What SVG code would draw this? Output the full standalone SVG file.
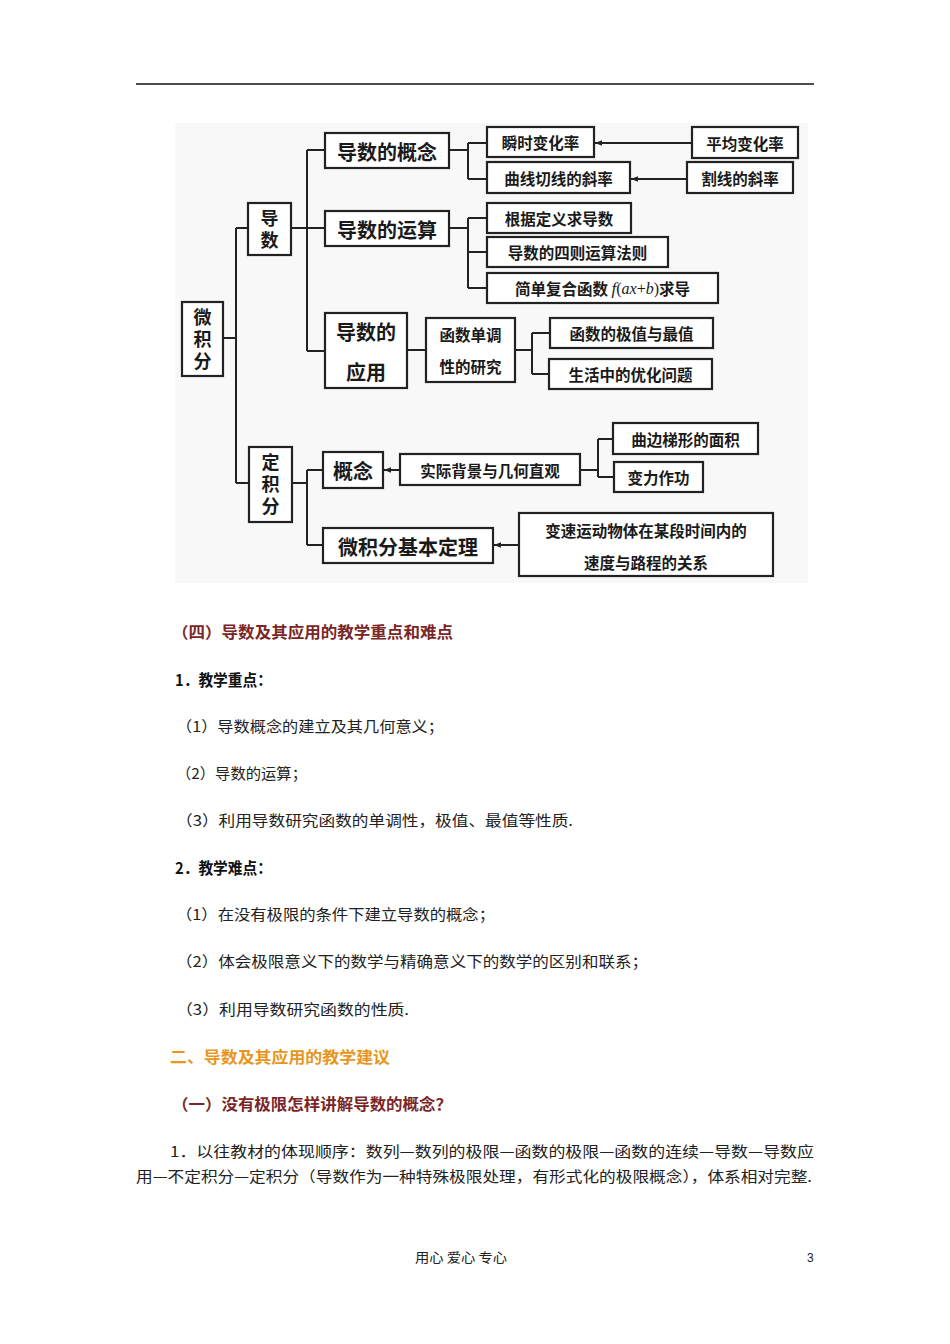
<svg xmlns="http://www.w3.org/2000/svg" width="950" height="1344" viewBox="0 0 950 1344">
<defs>
<marker id="ah" viewBox="0 0 10 10" refX="10" refY="5" markerWidth="7" markerHeight="7" orient="auto" markerUnits="userSpaceOnUse">
<path d="M0,1 L10,5 L0,9 z" fill="#222"/>
</marker>
<style>
.bx{fill:#fff;stroke:#222;stroke-width:2.2}
.t{font-family:"Noto Sans CJK SC","Noto Sans CJK JP",sans-serif;font-weight:bold;fill:#1a1a1a;text-anchor:middle;dominant-baseline:central}
.vt{font-family:"Noto Sans CJK SC","Noto Sans CJK JP",sans-serif;font-weight:bold;fill:#1a1a1a;text-anchor:middle;writing-mode:vertical-rl;font-size:18px;letter-spacing:4px}
.b{font-size:20px}
.s{font-size:15.5px}
.ln{stroke:#222;stroke-width:2;fill:none}
.body{font-family:"Noto Sans CJK SC",sans-serif;font-size:15px;fill:#222}
.hd{font-family:"Noto Sans CJK SC",sans-serif;font-size:15.5px;font-weight:bold}
.it{font-family:"Liberation Serif",serif;font-style:italic;font-weight:normal}
.rm{font-family:"Liberation Serif",serif;font-weight:normal}
</style>
</defs>
<rect width="950" height="1344" fill="#fff"/>
<line x1="136" y1="84" x2="814" y2="84" stroke="#111" stroke-width="1.5"/>
<rect x="175" y="123" width="633" height="460" fill="#f8f8f8"/>

<g id="connectors">
<path class="ln" d="M223,338 H236 M236,228 V483 M236,228 H248 M236,483 H249"/>
<path class="ln" d="M291,228 H325 M307,150 V351 M307,150 H325 M307,351 H325"/>
<path class="ln" d="M449,150 H468 M468,143 V179 M468,143 H487 M468,179 H487"/>
<path class="ln" d="M449,228 H468 M468,218 V288 M468,218 H487 M468,252 H487 M468,288 H487"/>
<path class="ln" d="M407,350 H426"/>
<path class="ln" d="M515,350 H532 M532,333 V374 M532,333 H550 M532,374 H549"/>
<path class="ln" d="M292,483 H307 M307,470 V545 M307,470 H323 M307,545 H323"/>
<path class="ln" d="M580,470 H598 M598,439 V477 M598,439 H613 M598,477 H614"/>
<line class="ln" x1="692" y1="143" x2="595" y2="143" marker-end="url(#ah)"/>
<line class="ln" x1="687" y1="179" x2="631" y2="179" marker-end="url(#ah)"/>
<line class="ln" x1="400" y1="470" x2="384" y2="470" marker-end="url(#ah)"/>
<line class="ln" x1="519" y1="545" x2="494" y2="545" marker-end="url(#ah)"/>
</g>

<g id="n-weijifen"><rect class="bx" x="182" y="302" width="41" height="74"/>
<text class="vt" x="202.5" y="341">微积分</text></g>
<g id="n-daoshu"><rect class="bx" x="248" y="203" width="43" height="52"/>
<text class="vt" x="269.5" y="231" font-size="19">导数</text></g>
<g id="n-dingjifen"><rect class="bx" x="249" y="447" width="43" height="75"/>
<text class="vt" x="270.5" y="486">定积分</text></g>

<g id="n-gainian"><rect class="bx" x="325" y="133" width="124" height="35"/><text class="t b" x="387" y="151">导数的概念</text></g>
<g id="n-yunsuan"><rect class="bx" x="325" y="211" width="124" height="35"/><text class="t b" x="387" y="229">导数的运算</text></g>
<g id="n-yingyong"><rect class="bx" x="325" y="313" width="82" height="75"/><text class="t b" x="366" y="331">导数的</text><text class="t b" x="366" y="371">应用</text></g>

<g id="n-shunshi"><rect class="bx" x="487" y="127" width="107" height="30"/><text class="t s" x="540.5" y="142">瞬时变化率</text></g>
<g id="n-pingjun"><rect class="bx" x="692" y="127" width="106" height="31"/><text class="t s" x="745" y="142.5">平均变化率</text></g>
<g id="n-qiexian"><rect class="bx" x="487" y="162" width="143" height="31"/><text class="t s" x="558.5" y="177.5">曲线切线的斜率</text></g>
<g id="n-gexian"><rect class="bx" x="687" y="162" width="106" height="31"/><text class="t s" x="740" y="177.5">割线的斜率</text></g>
<g id="n-dingyi"><rect class="bx" x="487" y="203" width="144" height="30"/><text class="t s" x="559" y="218">根据定义求导数</text></g>
<g id="n-size"><rect class="bx" x="487" y="237" width="181" height="30"/><text class="t s" x="577.5" y="252">导数的四则运算法则</text></g>
<g id="n-fuhe"><rect class="bx" x="487" y="273" width="231" height="30"/><text class="t s" x="602.5" y="288">简单复合函数 <tspan class="it" font-size="17">f</tspan><tspan class="rm" font-size="16">(</tspan><tspan class="it" font-size="16">ax</tspan><tspan class="rm" font-size="16">+</tspan><tspan class="it" font-size="16">b</tspan><tspan class="rm" font-size="16">)</tspan>求导</text></g>

<g id="n-dandiao"><rect class="bx" x="426" y="318" width="89" height="64"/><text class="t s" x="470.5" y="334">函数单调</text><text class="t s" x="470.5" y="366">性的研究</text></g>
<g id="n-jizhi"><rect class="bx" x="550" y="318" width="163" height="30"/><text class="t s" x="631.5" y="333">函数的极值与最值</text></g>
<g id="n-youhua"><rect class="bx" x="549" y="359" width="163" height="30"/><text class="t s" x="630.5" y="374">生活中的优化问题</text></g>

<g id="n-gn"><rect class="bx" x="323" y="452" width="60" height="36"/><text class="t b" x="353" y="470">概念</text></g>
<g id="n-shiji"><rect class="bx" x="400" y="454" width="180" height="31"/><text class="t s" x="490" y="469.5">实际背景与几何直观</text></g>
<g id="n-qubian"><rect class="bx" x="613" y="423" width="145" height="31"/><text class="t s" x="685.5" y="438.5">曲边梯形的面积</text></g>
<g id="n-bianli"><rect class="bx" x="614" y="462" width="89" height="30"/><text class="t s" x="658.5" y="477">变力作功</text></g>
<g id="n-jiben"><rect class="bx" x="323" y="528" width="170" height="35"/><text class="t b" x="408" y="546">微积分基本定理</text></g>
<g id="n-biansu"><rect class="bx" x="519" y="513" width="254" height="63"/><text class="t s" x="646" y="530">变速运动物体在某段时间内的</text><text class="t s" x="646" y="562">速度与路程的关系</text></g>

<g id="textbody">
<text class="hd" x="172" y="638" fill="#7a2626" textLength="281" lengthAdjust="spacingAndGlyphs">（四）导数及其应用的教学重点和难点</text>
<text class="hd" x="175" y="686" fill="#111" textLength="97" lengthAdjust="spacingAndGlyphs">1．教学重点：</text>
<text class="body" x="176" y="732" textLength="268" lengthAdjust="spacingAndGlyphs">（1）导数概念的建立及其几何意义；</text>
<text class="body" x="176" y="779" textLength="131" lengthAdjust="spacingAndGlyphs">（2）导数的运算；</text>
<text class="body" x="176" y="826" textLength="397" lengthAdjust="spacingAndGlyphs">（3）利用导数研究函数的单调性，极值、最值等性质.</text>
<text class="hd" x="175" y="874" fill="#111" textLength="97" lengthAdjust="spacingAndGlyphs">2．教学难点：</text>
<text class="body" x="176" y="920" textLength="319" lengthAdjust="spacingAndGlyphs">（1）在没有极限的条件下建立导数的概念；</text>
<text class="body" x="176" y="967" textLength="472" lengthAdjust="spacingAndGlyphs">（2）体会极限意义下的数学与精确意义下的数学的区别和联系；</text>
<text class="body" x="176" y="1015" textLength="233" lengthAdjust="spacingAndGlyphs">（3）利用导数研究函数的性质.</text>
<text class="hd" x="170" y="1063" fill="#e8951c" textLength="220" lengthAdjust="spacingAndGlyphs">二、导数及其应用的教学建议</text>
<text class="hd" x="172" y="1110" fill="#7a2626" textLength="280" lengthAdjust="spacingAndGlyphs">（一）没有极限怎样讲解导数的概念？</text>
<text class="body" x="170" y="1157" textLength="644" lengthAdjust="spacingAndGlyphs">1．以往教材的体现顺序：数列—数列的极限—函数的极限—函数的连续—导数—导数应</text>
<text class="body" x="136" y="1182" textLength="676" lengthAdjust="spacingAndGlyphs">用—不定积分—定积分（导数作为一种特殊极限处理，有形式化的极限概念），体系相对完整.</text>
<text x="415" y="1262" font-family="Noto Sans CJK SC,sans-serif" font-size="13" fill="#222" textLength="92" lengthAdjust="spacingAndGlyphs">用心 爱心 专心</text>
<text x="807" y="1262" font-family="Liberation Sans,sans-serif" font-size="12" fill="#222">3</text>
</g>
</svg>
